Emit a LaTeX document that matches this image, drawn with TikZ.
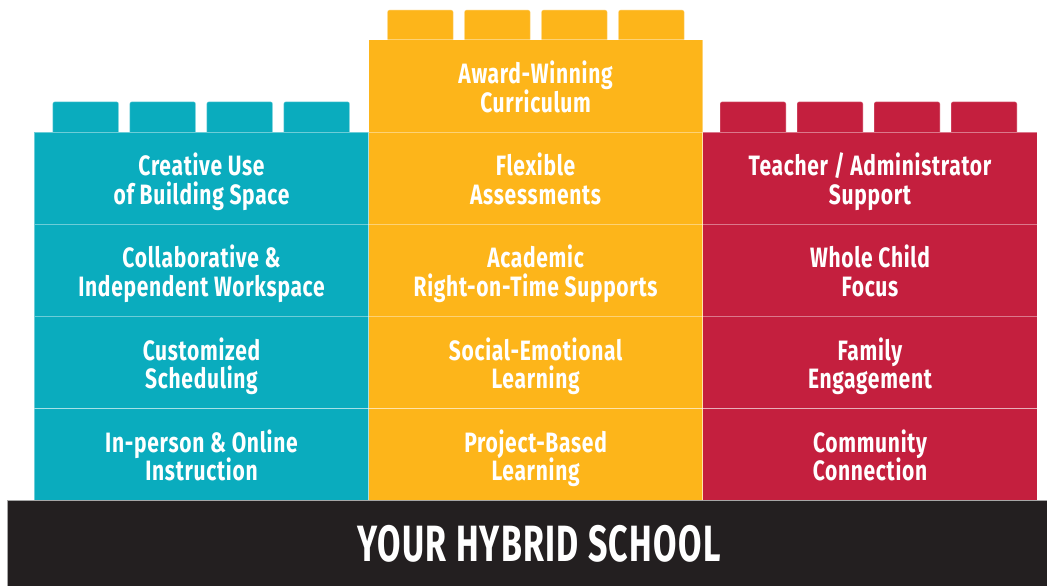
\documentclass[tikz,border=0pt]{standalone}
\usepackage{fontspec}
\newfontfamily\condfont[FakeStretch=0.75,LetterSpace=2.5]{Fira Sans}
\newfontfamily\basefont[FakeStretch=0.665,LetterSpace=2.5]{Fira Sans}
\definecolor{legoTeal}{HTML}{0AACBE}
\definecolor{legoYellow}{HTML}{FDB51A}
\definecolor{legoRed}{HTML}{C41F3E}
\definecolor{legoBlack}{HTML}{231F20}
\newcommand\twoline[2]{\rule{0pt}{24pt}#1\\#2\rule[-9pt]{0pt}{9pt}}
\begin{document}
\setlength{\lineskiplimit}{-100pt}\setlength{\lineskip}{0pt}%
\begin{tikzpicture}[x=1pt,y=-1pt,
  cellbox/.style={draw=white, draw opacity=0.4, line width=1pt, minimum width=334.2pt, minimum height=92.2pt, inner sep=0pt},
  studbox/.style={draw=white, draw opacity=0.4, line width=0.8pt, rounded corners=2pt},
  lbl/.style={text=white, font=\condfont\bfseries\fontsize{28}{28.5}\selectfont, align=center, inner sep=0pt, yshift=-4.35pt}]
\useasboundingbox (0,0) rectangle (1047,586);
% studs
\foreach \sx in {52.7,129.7,206.7,283.7}
  \path[studbox, fill=legoTeal] (\sx,133) -- (\sx,101.7) -- (\sx+66,101.7) -- (\sx+66,133);
\foreach \sx in {387.3,464.3,541.3,618.3}
  \path[studbox, fill=legoYellow] (\sx,41) -- (\sx,10) -- (\sx+66,10) -- (\sx+66,41);
\foreach \sx in {720,797,874,951}
  \path[studbox, fill=legoRed] (\sx,133) -- (\sx,101.7) -- (\sx+66,101.7) -- (\sx+66,133);
% cells
\node[cellbox, fill=legoYellow] (y0) at (535.6,86) {};
\node[cellbox, fill=legoTeal] (t1) at (201.5,178.1) {};
\node[cellbox, fill=legoTeal] (t2) at (201.5,270.3) {};
\node[cellbox, fill=legoTeal] (t3) at (201.5,362.5) {};
\node[cellbox, fill=legoTeal] (t4) at (201.5,454.7) {};
\node[cellbox, fill=legoYellow] (y1) at (535.6,178.1) {};
\node[cellbox, fill=legoYellow] (y2) at (535.6,270.3) {};
\node[cellbox, fill=legoYellow] (y3) at (535.6,362.5) {};
\node[cellbox, fill=legoYellow] (y4) at (535.6,454.7) {};
\node[cellbox, fill=legoRed] (r1) at (870,178.1) {};
\node[cellbox, fill=legoRed] (r2) at (870,270.3) {};
\node[cellbox, fill=legoRed] (r3) at (870,362.5) {};
\node[cellbox, fill=legoRed] (r4) at (870,454.7) {};
% labels
\node[lbl] (ly0) at (y0.center) {\twoline{Award-Winning}{Curriculum}};
\node[lbl] (lt1) at (t1.center) {\twoline{Creative Use}{of Building Space}};
\node[lbl] (lt2) at (t2.center) {\twoline{Collaborative \&}{Independent Workspace}};
\node[lbl] (lt3) at (t3.center) {\twoline{Customized}{Scheduling}};
\node[lbl] (lt4) at (t4.center) {\twoline{In-person \& Online}{Instruction}};
\node[lbl] (ly1) at (y1.center) {\twoline{Flexible}{Assessments}};
\node[lbl] (ly2) at (y2.center) {\twoline{Academic}{Right-on-Time Supports}};
\node[lbl] (ly3) at (y3.center) {\twoline{Social-Emotional}{Learning}};
\node[lbl] (ly4) at (y4.center) {\twoline{Project-Based}{Learning}};
\node[lbl] (lr1) at (r1.center) {\twoline{Teacher / Administrator}{Support}};
\node[lbl] (lr2) at (r2.center) {\twoline{Whole Child}{Focus}};
\node[lbl] (lr3) at (r3.center) {\twoline{Family}{Engagement}};
\node[lbl] (lr4) at (r4.center) {\twoline{Community}{Connection}};
% base
\node[fill=legoBlack, draw=gray!70, line width=0.8pt, minimum width=1041pt, minimum height=86pt, inner sep=0pt] (base) at (527.5,543.5) {};
\node[text=white, font=\basefont\bfseries\fontsize{51}{51}\selectfont, inner sep=0pt] (basetext) at (539,544) {YOUR HYBRID SCHOOL};
\end{tikzpicture}
\end{document}
